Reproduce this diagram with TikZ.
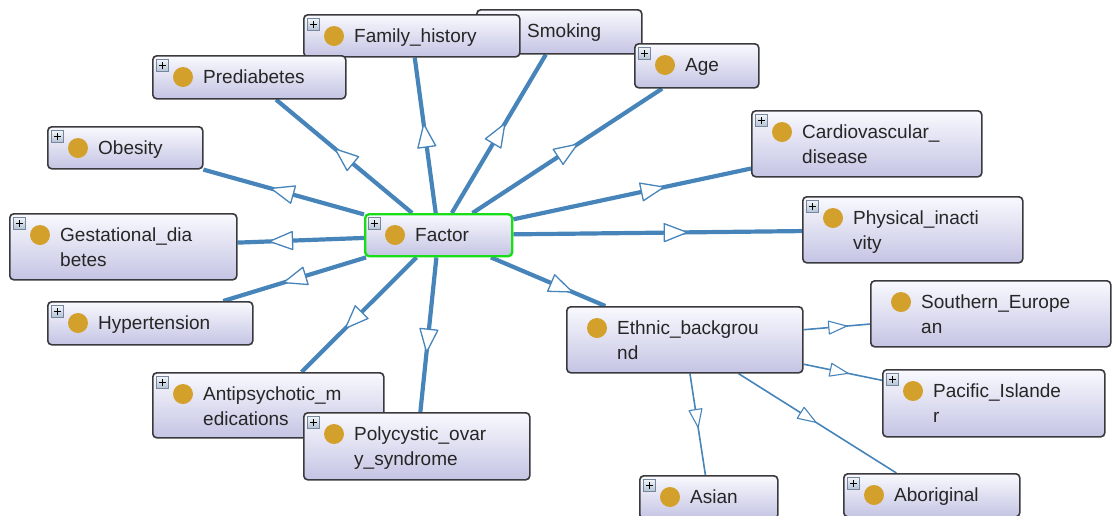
\documentclass[tikz,border=0pt]{standalone}
\usepackage{fontspec}
\setmainfont{Liberation Sans}
\usetikzlibrary{decorations.markings}

\definecolor{edgeblue}{RGB}{70,132,186}
\definecolor{boxtop}{RGB}{249,249,254}
\definecolor{boxbot}{RGB}{196,196,228}
\definecolor{boxline}{RGB}{58,58,62}
\definecolor{dotgold}{RGB}{212,160,44}
\definecolor{selgreen}{RGB}{24,222,24}
\definecolor{icontop}{RGB}{242,245,249}
\definecolor{iconbot}{RGB}{178,194,212}
\definecolor{iconline}{RGB}{118,134,156}

\pgfdeclarelayer{links}
\pgfsetlayers{links,main}

\tikzset{
  classbox/.style={rectangle, rounded corners=4pt, draw=boxline, line width=1.6pt,
    top color=boxtop, bottom color=boxbot, inner sep=0pt},
  classdot/.style={circle, fill=dotgold, minimum size=20pt, inner sep=0pt},
  classtext/.style={inner sep=0pt, text=black!85, font=\fontsize{19pt}{25pt}\selectfont},
  plusicon/.style={rectangle, draw=iconline, line width=0.8pt, top color=icontop,
    bottom color=iconbot, minimum size=12pt, inner sep=0pt,
    path picture={\draw[line width=1.6pt, black]
      ([xshift=-3.5pt]path picture bounding box.center) -- ([xshift=3.5pt]path picture bounding box.center)
      ([yshift=-3.5pt]path picture bounding box.center) -- ([yshift=3.5pt]path picture bounding box.center);}},
  noicon/.style={inner sep=0pt, minimum size=0pt},
  mainlink/.style={draw=edgeblue, line width=4.2pt},
  sublink/.style={draw=edgeblue, line width=1.6pt},
  bighead/.style={decorate, decoration={markings, mark=at position 0.5 with
    {\draw[draw=edgeblue, fill=white, line width=1.3pt, line join=round]
      (-11.5pt,9pt) -- (11.5pt,0pt) -- (-11.5pt,-9pt) -- cycle;}}},
  smallhead/.style={decorate, decoration={markings, mark=at position 0.5 with
    {\draw[draw=edgeblue, fill=white, line width=1.1pt, line join=round]
      (-9pt,6.5pt) -- (9pt,0pt) -- (-9pt,-6.5pt) -- cycle;}}},
}

% \ogclass{name}{left}{top}{width}{height}{box extra}{icon style}{line 1}{line 2}
\newcommand\ogclass[9]{%
  \node[classbox, minimum width=#4pt, minimum height=#5pt, anchor=north west, #6] (#1) at (#2,#3) {};
  \node[#7, anchor=north west] (#1-icon) at ([xshift=4pt,yshift=-4pt]#1.north west) {};
  \node[classdot] (#1-dot) at ([xshift=31pt,yshift=-22pt]#1.north west) {};
  \node[classtext, anchor=base west] (#1-a) at ([xshift=51pt,yshift=-28.5pt]#1.north west) {#8};
  \node[classtext, anchor=base west] (#1-b) at ([xshift=51pt,yshift=-53.5pt]#1.north west) {#9};
}

\begin{document}
\begin{tikzpicture}[x=1pt, y=-1pt]
  \useasboundingbox (0,0) rectangle (1112,515);
  \clip (0,0) rectangle (1112,515);

  % class boxes (later ones overlap earlier ones)
  \ogclass{factor}{364}{213}{147}{42}{draw=selgreen, line width=2.4pt}{plusicon}{Factor}{}
  \ogclass{smoking}{476}{9}{165}{44}{}{noicon}{Smoking}{}
  \ogclass{famhist}{303}{14}{216}{42}{}{plusicon}{Family\_history}{}
  \ogclass{age}{634}{43}{124}{44}{}{plusicon}{Age}{}
  \ogclass{prediab}{152}{55}{193}{43}{}{plusicon}{Prediabetes}{}
  \ogclass{obesity}{47}{126}{155}{42}{}{plusicon}{Obesity}{}
  \ogclass{cardio}{751}{110}{230}{66}{}{plusicon}{Cardiovascular\_}{disease}
  \ogclass{physical}{802}{196}{220}{66}{}{plusicon}{Physical\_inacti}{vity}
  \ogclass{gest}{9}{213}{227}{66}{}{plusicon}{Gestational\_dia}{betes}
  \ogclass{hyper}{47}{301}{205}{43}{}{plusicon}{Hypertension}{}
  \ogclass{ethnic}{566}{306}{236}{66}{}{noicon}{Ethnic\_backgrou}{nd}
  \ogclass{southern}{870}{280}{240}{66}{}{noicon}{Southern\_Europe}{an}
  \ogclass{pacific}{882}{369}{222}{67}{}{plusicon}{Pacific\_Islande}{r}
  \ogclass{antipsy}{152}{372}{231}{65}{}{plusicon}{Antipsychotic\_m}{edications}
  \ogclass{polycys}{303}{412}{226}{67}{}{plusicon}{Polycystic\_ovar}{y\_syndrome}
  \ogclass{asian}{639}{475}{138}{43}{}{plusicon}{Asian}{}
  \ogclass{aborig}{843}{473}{176}{43}{}{plusicon}{Aboriginal}{}

  % connectors with open triangle heads at their middle
  \begin{pgfonlayer}{links}
    \foreach \t in {famhist,smoking,age,prediab,obesity,cardio,physical,gest,hyper,ethnic,antipsy,polycys} {
      \draw[mainlink] (factor) -- (\t);
      \path[bighead] (factor.center) -- (\t.center);
    }
    \foreach \t in {southern,pacific,asian,aborig} {
      \draw[sublink] (ethnic) -- (\t);
      \path[smallhead] (ethnic.center) -- (\t.center);
    }
  \end{pgfonlayer}
\end{tikzpicture}
\end{document}
